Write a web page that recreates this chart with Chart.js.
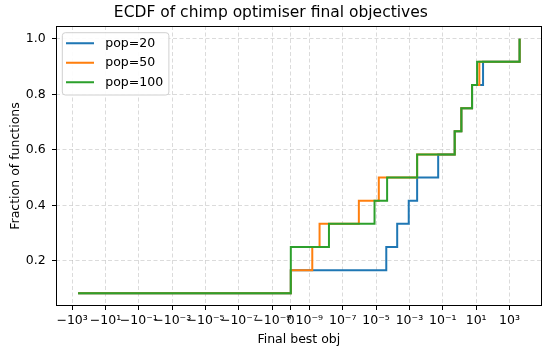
<!DOCTYPE html>
<html>
<head>
<meta charset="utf-8">
<script src="https://cdn.jsdelivr.net/npm/chart.js@4/dist/chart.umd.min.js"></script>
<style>
  body { margin: 0; background: #fff; }
</style>
</head>
<body>
<canvas id="ecdf" width="550" height="354"></canvas>
<script>
// final best objective per function, sorted
const pop20  = [-440, 0, 4.1e-5, 1.85e-4, 9.1e-4, 2.9e-3, 0.053, 0.52, 1.3, 5.7, 26, 4050];
const pop50  = [-440, 0, 1.5e-9, 4.1e-9, 9.3e-7, 1.46e-5, 2.9e-3, 0.52, 1.3, 5.7, 15.6, 4050];
const pop100 = [-440, 0, 0, 1.5e-8, 8.1e-6, 4.6e-5, 2.9e-3, 0.52, 1.3, 5.7, 11.4, 4050];

const seriesNames = ['pop=20', 'pop=50', 'pop=100'];
const xTicks = [-1e3, -1e1, -1e-1, -1e-3, -1e-5, -1e-7, -1e-9, 0, 1e-9, 1e-7, 1e-5, 1e-3, 1e-1, 1e1, 1e3];
const yTicks = [0.2, 0.4, 0.6, 0.8, 1.0];

const colors = ['#1f77b4', '#ff7f0e', '#2ca02c'];

// symlog like matplotlib (linthresh 1e-9, linscale 1)
const LINTHRESH = 1e-9;
const LINSCALE = 1 / (1 - 1 / 10);
function tf(x) {
  const a = Math.abs(x);
  if (a <= LINTHRESH) return x / LINTHRESH * LINSCALE;
  return Math.sign(x) * (LINSCALE + Math.log10(a / LINTHRESH));
}
function itf(t) {
  const a = Math.abs(t);
  if (a <= LINSCALE) return t / LINSCALE * LINTHRESH;
  return Math.sign(t) * LINTHRESH * Math.pow(10, a - LINSCALE);
}

class SymlogScale extends Chart.Scale {
  static id = 'symlog';
  static defaults = {};
  parse(raw) { return raw == null ? NaN : +raw; }
  determineDataLimits() {
    const {min, max} = this.getMinMax(true);
    const t0 = tf(min), t1 = tf(max);
    const pad = (t1 - t0) * 0.05;
    this.min = itf(t0 - pad);
    this.max = itf(t1 + pad);
  }
  buildTicks() {
    return xTicks.map(v => ({value: v}));
  }
  configure() {
    super.configure();
    this._t0 = tf(this.min);
    this._t1 = tf(this.max);
  }
  getLabelForValue(v) { return String(v); }
  getPixelForValue(v) {
    return this.getPixelForDecimal((tf(v) - this._t0) / (this._t1 - this._t0));
  }
  getValueForPixel(p) {
    return itf(this._t0 + this.getDecimalForPixel(p) * (this._t1 - this._t0));
  }
}
Chart.register(SymlogScale);

const sup = {'-': '\u207b', '0': '\u2070', '1': '\u00b9', '2': '\u00b2', '3': '\u00b3', '4': '\u2074',
             '5': '\u2075', '6': '\u2076', '7': '\u2077', '8': '\u2078', '9': '\u2079'};
function fmtTick(v) {
  if (v === 0) return '0';
  const e = Math.round(Math.log10(Math.abs(v)));
  const s = String(e).split('').map(c => sup[c]).join('');
  return (v < 0 ? '\u2212' : '') + '10' + s;
}

function ecdf(vals) {
  return vals.map((v, i) => ({x: v, y: (i + 1) / vals.length}));
}

const n = pop20.length;
const yMin = 1 / n - 0.05 * (1 - 1 / n);
const yMax = 1 + 0.05 * (1 - 1 / n);

function handle(color) {
  const c = document.createElement('canvas');
  c.width = 33; c.height = 4;
  const g = c.getContext('2d');
  g.strokeStyle = color; g.lineWidth = 2;
  g.beginPath(); g.moveTo(0, 2); g.lineTo(28, 2); g.stroke();
  return c;
}

const frame = {
  id: 'frame',
  afterLayout(chart) {
    // put the legend in the upper left corner of the plot
    chart.legend.left = chart.chartArea.left + 3;
    chart.legend.top = chart.chartArea.top + 4;
  },
  afterDatasetsDraw(chart) {
    const ctx = chart.ctx, a = chart.chartArea;
    ctx.save();
    // axes spines
    ctx.strokeStyle = '#000';
    ctx.lineWidth = 1;
    ctx.strokeRect(Math.round(a.left) + 0.5, Math.round(a.top) + 0.5,
                   Math.round(a.right - a.left) - 1, Math.round(a.bottom - a.top) - 1);
    // legend box
    const lg = chart.legend;
    ctx.font = '12.5px "DejaVu Sans"';
    let w = 0;
    seriesNames.forEach(s => { w = Math.max(w, ctx.measureText(s).width); });
    const x0 = lg.left + 3.3, y0 = lg.top + 2.7;
    const bw = (lg.left + 7 + 33 + 6.25 + w + 5.8) - x0;
    const bh = seriesNames.length * 19.5 + 3.8;
    ctx.beginPath();
    ctx.roundRect(x0, y0, bw, bh, 3);
    ctx.fillStyle = 'rgba(255,255,255,0.9)';
    ctx.fill();
    ctx.strokeStyle = '#d0d0d0';
    ctx.stroke();
    ctx.restore();
    lg.draw();
  }
};

Chart.defaults.font.family = '"DejaVu Sans"';
Chart.defaults.color = '#000';

const gridStyle = {
  color: 'rgba(176,176,176,0.45)',
  lineWidth: 1,
  tickColor: '#000',
  tickLength: 4,
  tickWidth: 1,
  tickBorderDash: []
};
const borderStyle = {display: false, dash: [4, 2.5]};

new Chart(document.getElementById('ecdf'), {
  type: 'line',
  data: {
    datasets: [
      {label: seriesNames[0], data: ecdf(pop20), borderColor: colors[0], backgroundColor: colors[0], order: 3},
      {label: seriesNames[1], data: ecdf(pop50), borderColor: colors[1], backgroundColor: colors[1], order: 2},
      {label: seriesNames[2], data: ecdf(pop100), borderColor: colors[2], backgroundColor: colors[2], order: 1}
    ]
  },
  options: {
    responsive: false,
    animation: false,
    layout: {padding: {left: 0, right: 8.3, top: 0, bottom: 0}},
    elements: {
      line: {borderWidth: 2, stepped: 'before', tension: 0},
      point: {radius: 0, hoverRadius: 0}
    },
    plugins: {
      title: {
        display: true,
        text: 'ECDF of chimp optimiser final objectives',
        font: {size: 15.5, weight: 'normal'},
        color: '#000',
        padding: {top: 4, bottom: 3.4}
      },
      legend: {
        position: 'chartArea',
        align: 'start',
        labels: {
          usePointStyle: true,
          pointStyleWidth: 33,
          padding: 7,
          font: {size: 12.5},
          sort: (a, b) => a.datasetIndex - b.datasetIndex,
          generateLabels: (chart) =>
            Chart.defaults.plugins.legend.labels.generateLabels(chart)
              .map(it => Object.assign(it, {pointStyle: handle(colors[it.datasetIndex])}))
        }
      },
      tooltip: {enabled: false}
    },
    scales: {
      x: {
        type: 'symlog',
        position: 'bottom',
        grid: gridStyle,
        border: borderStyle,
        ticks: {
          autoSkip: false, maxRotation: 0, minRotation: 0,
          padding: 3.5,
          font: {size: 12.5},
          callback: (v) => fmtTick(v)
        },
        title: {display: true, text: 'Final best obj', font: {size: 12.5}, padding: {top: 0, bottom: 6.5}},
        afterFit: (s) => { s.height = 48; }
      },
      y: {
        type: 'linear',
        min: yMin,
        max: yMax,
        grid: gridStyle,
        border: borderStyle,
        afterBuildTicks: (s) => { s.ticks = yTicks.map(v => ({value: v})); },
        ticks: {
          padding: 6.3,
          font: {size: 12.5},
          callback: (v) => v.toFixed(1)
        },
        title: {display: true, text: 'Fraction of functions', font: {size: 12.5}, padding: {top: 8, bottom: 0}},
        afterFit: (s) => { s.width = 56; }
      }
    }
  },
  plugins: [frame]
});
</script>
</body>
</html>
